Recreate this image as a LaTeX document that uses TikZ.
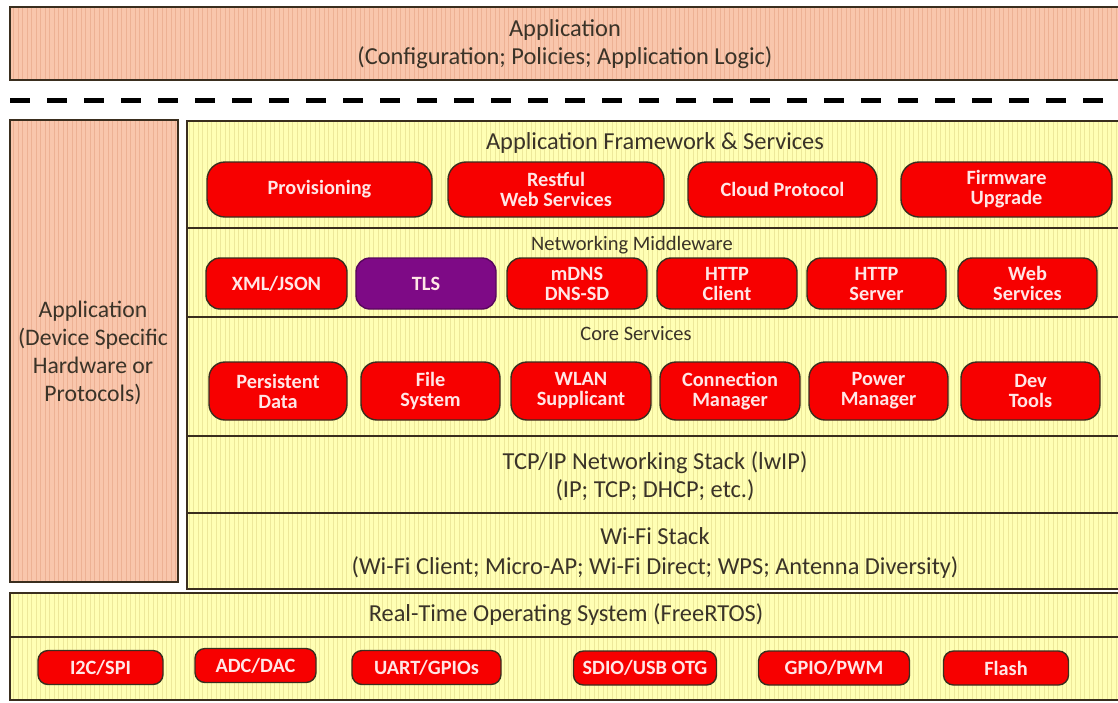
\documentclass[tikz,border=0pt]{standalone}
\usepackage{fontspec}
\setmainfont{Carlito}
\definecolor{pinkfill}{HTML}{F9C6AC}
\definecolor{pinkgrid}{HTML}{EDB194}
\definecolor{yelfill}{HTML}{FFFFB4}
\definecolor{yelgrid}{HTML}{EDE89A}
\definecolor{boxred}{HTML}{F70000}
\definecolor{boxpurple}{HTML}{7E0A86}
\definecolor{edge}{HTML}{3A2E1E}
\definecolor{txt}{HTML}{3A3328}
\definecolor{btxt}{HTML}{FFE6E6}
\tikzset{
  panel/.style={draw=edge, line width=1.6pt},
  rbox/.style={draw=edge, line width=1.4pt, fill=boxred, text=btxt, rounded corners=15pt,
    align=center, inner sep=0pt, font=\fontsize{20.3}{20}\selectfont\bfseries},
  pbox/.style={rbox, fill=boxpurple, draw=boxpurple!70!black},
  smallbox/.style={rbox, rounded corners=10pt},
  lbl/.style={text=txt, align=center, inner sep=0pt},
  big/.style={lbl, font=\fontsize{24.4}{29}\selectfont},
  mid/.style={lbl, font=\fontsize{20.5}{24}\selectfont},
}
\begin{document}
\begin{tikzpicture}[x=1pt, y=-1pt]
\useasboundingbox (0,0) rectangle (1118,702);
\fill[white] (0,0) rectangle (1118,702);
% backgrounds with grid texture
\fill[pinkfill] (10,7) rectangle (1130,80);
\fill[pinkfill] (10,120) rectangle (178,582);
\fill[yelfill] (187,121) rectangle (1130,589);
\fill[yelfill] (10,593) rectangle (1130,700);
\begin{scope}
  \clip (10,7) rectangle (1130,80) (10,120) rectangle (178,582);
  \draw[pinkgrid, line width=0.5pt, step=4.5] (0,0) grid (1130,702);
\end{scope}
\begin{scope}
  \clip (187,121) rectangle (1130,589) (10,593) rectangle (1130,700);
  \draw[yelgrid, line width=0.5pt, step=4.5] (0,0) grid (1130,702);
\end{scope}
% panels
\draw[panel] (10,7) rectangle (1130,80);
\draw[panel] (10,120) rectangle (178,582);
\draw[panel] (187,121) rectangle (1130,589);
\draw[panel] (10,593) rectangle (1130,700);
\coordinate (dl) at (10,100);
\coordinate (dr) at (1130,100);
\draw[black, line width=5pt, dash pattern=on 20pt off 17pt] (dl) -- (dr);
\coordinate (d1l) at (187,228); \coordinate (d1r) at (1130,228);
\coordinate (d2l) at (187,317); \coordinate (d2r) at (1130,317);
\coordinate (d3l) at (187,436); \coordinate (d3r) at (1130,436);
\coordinate (d4l) at (187,513); \coordinate (d4r) at (1130,513);
\coordinate (d5l) at (10,637); \coordinate (d5r) at (1130,637);
\draw[panel] (d1l) -- (d1r);
\draw[panel] (d2l) -- (d2r);
\draw[panel] (d3l) -- (d3r);
\draw[panel] (d4l) -- (d4r);
\draw[panel] (d5l) -- (d5r);
% top application
\node[big, font=\fontsize{24.4}{28}\selectfont] (app) at (565,44) {Application\\(Configuration; Policies; Application Logic)};
% left application
\node[lbl, font=\fontsize{23.7}{28}\selectfont] (dev) at (93,353) {Application\\(Device Specific\\Hardware or\\Protocols)};
% framework
\node[lbl, font=\fontsize{24.4}{28}\selectfont] (fw) at (655,143) {Application Framework \& Services};
\node[rbox, rounded corners=18pt, minimum width=225, minimum height=55] (prov) at (319.5,189.5) {Provisioning};
\node[rbox, rounded corners=18pt, minimum width=216, minimum height=55] (rest) at (556,189.5) {Restful\\Web Services};
\node[rbox, rounded corners=18pt, minimum width=189, minimum height=55] (cloud) at (782.5,189.5) {Cloud Protocol};
\node[rbox, rounded corners=18pt, minimum width=211, minimum height=55] (firm) at (1006.5,189.5) {Firmware\\Upgrade};
% middleware
\node[mid] (nm) at (632,245) {Networking Middleware};
\node[rbox, rounded corners=14pt, minimum width=141, minimum height=51] (xml) at (276.5,283.5) {XML/JSON};
\node[pbox, rounded corners=14pt, minimum width=140, minimum height=51] (tls) at (426,283.5) {TLS};
\node[rbox, rounded corners=14pt, minimum width=140, minimum height=51] (mdns) at (577,283.5) {mDNS\\DNS-SD};
\node[rbox, rounded corners=14pt, minimum width=140, minimum height=51] (hc) at (727,283.5) {HTTP\\Client};
\node[rbox, rounded corners=14pt, minimum width=139, minimum height=51] (hs) at (876.5,283.5) {HTTP\\Server};
\node[rbox, rounded corners=14pt, minimum width=139, minimum height=51] (ws) at (1027.5,283.5) {Web\\Services};
% core services
\node[mid] (cs) at (636,334) {Core Services};
\node[rbox, rounded corners=16pt, minimum width=138, minimum height=58] (pd) at (278,391) {Persistent\\Data};
\node[rbox, rounded corners=16pt, minimum width=139, minimum height=58] (fs) at (430.5,391) {File\\System};
\node[rbox, rounded corners=16pt, minimum width=140, minimum height=58] (wlan) at (581,391) {WLAN\\Supplicant};
\node[rbox, rounded corners=16pt, minimum width=140, minimum height=58] (cm) at (730,391) {Connection\\Manager};
\node[rbox, rounded corners=16pt, minimum width=139, minimum height=58] (pm) at (878.5,391) {Power\\Manager};
\node[rbox, rounded corners=16pt, minimum width=139, minimum height=58] (dt) at (1030.5,391) {Dev\\Tools};
% tcp/ip
\node[big, font=\fontsize{24.4}{28}\selectfont] (tcp) at (655,476) {TCP/IP Networking Stack (lwIP)\\(IP; TCP; DHCP; etc.)};
% wifi
\node[big, font=\fontsize{24.4}{30}\selectfont] (wifi) at (655,553) {Wi-Fi Stack\\(Wi-Fi Client; Micro-AP; Wi-Fi Direct; WPS; Antenna Diversity)};
% rtos
\node[big] (rtos) at (566,615) {Real-Time Operating System (FreeRTOS)};
\node[smallbox, minimum width=125, minimum height=34] (i2c) at (100.5,667.5) {I2C/SPI};
\node[smallbox, minimum width=121, minimum height=34] (adc) at (255.5,665.5) {ADC/DAC};
\node[smallbox, minimum width=149, minimum height=34] (uart) at (426.5,667.5) {UART/GPIOs};
\node[smallbox, minimum width=143, minimum height=34] (sdio) at (645,668) {SDIO/USB OTG};
\node[smallbox, minimum width=151, minimum height=34] (gpio) at (834,668) {GPIO/PWM};
\node[smallbox, minimum width=125, minimum height=34] (flash) at (1006,668) {Flash};
\end{tikzpicture}
\end{document}
